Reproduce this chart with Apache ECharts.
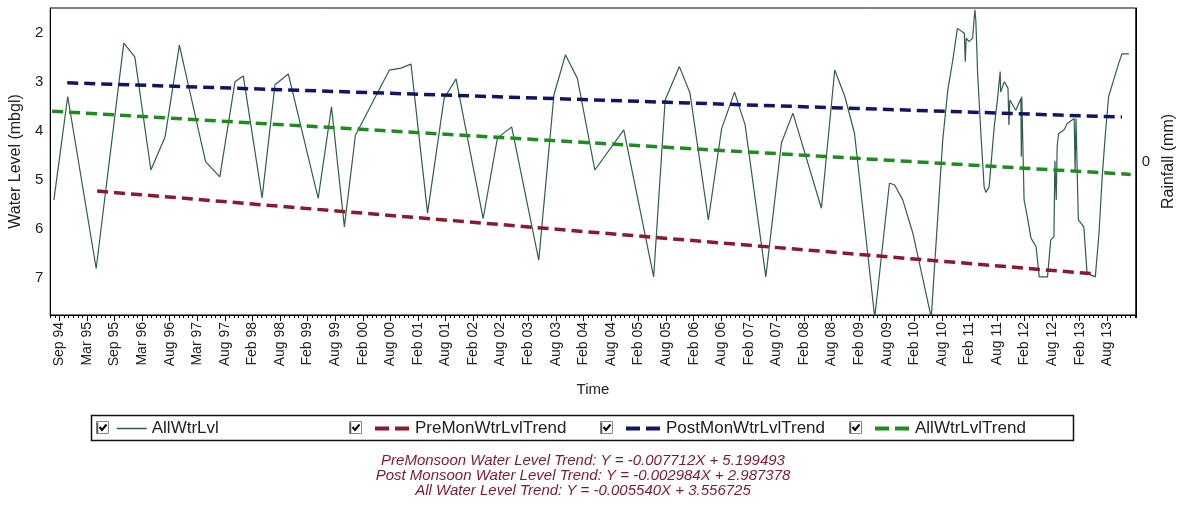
<!DOCTYPE html>
<html>
<head>
<meta charset="utf-8">
<script src="https://cdn.jsdelivr.net/npm/echarts@6/dist/echarts.min.js"></script>
<style>
  html, body { margin: 0; padding: 0; background: #fff; }
  #chart { width: 1185px; height: 507px; }
</style>
</head>
<body>
<div id="chart"></div>
<script>
// ---- data (x = months after Sep 1994) ----
const tickLabels = ['Sep 94','Mar 95','Sep 95','Mar 96','Aug 96','Mar 97','Aug 97','Feb 98','Aug 98','Feb 99',
  'Aug 99','Feb 00','Aug 00','Feb 01','Aug 01','Feb 02','Aug 02','Feb 03','Aug 03','Feb 04',
  'Aug 04','Feb 05','Aug 05','Feb 06','Aug 06','Feb 07','Aug 07','Feb 08','Aug 08','Feb 09',
  'Aug 09','Feb 10','Aug 10','Feb 11','Aug 11','Feb 12','Aug 12','Feb 13','Aug 13'];
const tickMonths = [0,6,12,18,24,30,36,42,48,54,60,66,72,78,84,90,96,102,108,114,120,126,132,138,144,150,
  156,162,168,174,180,186,192,198,204,210,216,222,228];
const levelTicks = [2, 3, 4, 5, 6, 7];
const rainTicks = [0];

const wlMonths = [-1.2,1.8,8.0,14.0,16.4,19.9,23.0,26.1,31.8,34.9,38.2,40.0,44.1,46.9,49.8,56.3,59.2,62.0,64.4,
  71.8,74.3,76.5,80.1,83.7,86.3,92.2,95.3,98.4,104.3,107.6,110.1,112.7,116.5,122.8,129.3,131.8,134.9,137.2,
  141.2,144.1,146.9,149.2,153.7,157.1,159.6,165.8,168.7,170.9,173.0,177.4,180.6,181.7,183.5,185.7,189.7,
  192.2,193.3,194.4,195.4,196.9,197.1,197.3,197.9,198.7,199.2,199.4,199.8,200.5,201.2,201.6,202.3,203.4,
  204.1,204.7,204.8,205.6,206.4,206.6,206.8,208.1,209.2,209.3,209.4,209.9,210.6,211.4,212.5,213.2,215.0,
  215.7,216.4,216.6,216.9,217.1,217.4,218.6,219.3,220.8,221.0,221.2,221.5,221.7,222.9,223.6,225.4,226.2,
  226.9,227.6,228.3,229.4,230.5,231.2,232.7];
const wlLevels = [5.40,3.29,6.80,2.20,2.48,4.79,4.11,2.24,4.62,4.93,2.99,2.87,5.36,3.05,2.83,5.37,3.50,5.95,4.08,
  2.75,2.71,2.63,5.67,3.33,2.93,5.78,4.14,3.91,6.63,3.26,2.44,2.92,4.79,3.97,6.97,3.36,2.68,3.22,
  5.81,3.94,3.20,3.87,6.97,4.24,3.63,5.57,2.75,3.29,4.04,7.80,5.06,5.09,5.40,6.08,7.80,
  4.18,3.16,2.54,1.90,2.00,2.58,2.10,2.17,2.10,1.52,1.73,2.84,4.04,5.13,5.25,5.13,3.91,
  3.36,2.78,3.20,2.99,3.12,3.87,3.36,3.57,3.33,4.52,3.29,5.40,5.74,6.18,6.35,6.97,6.97,
  6.22,6.15,4.60,5.40,4.30,4.05,3.97,3.84,3.74,4.79,3.74,3.74,5.81,5.95,6.90,6.97,6.08,
  4.93,4.04,3.29,2.95,2.61,2.42,2.42];

const preTrendMonths = [8.2, 225.1];
const preTrendLevels = [5.22, 6.91];
const postTrendMonths = [1.7, 231.2];
const postTrendLevels = [3.01, 3.71];
const allTrendMonths = [-1.6, 233.1];
const allTrendLevels = [3.59, 4.88];

const seriesNames = ['AllWtrLvl', 'PreMonWtrLvlTrend', 'PostMonWtrLvlTrend', 'AllWtrLvlTrend'];
const equations = [
  'PreMonsoon Water Level Trend: Y = -0.007712X + 5.199493',
  'Post Monsoon Water Level Trend: Y = -0.002984X + 2.987378',
  'All Water Level Trend: Y = -0.005540X + 3.556725'
];

// ---- chart ----
const zip = (xs, ys) => xs.map((x, i) => [x, ys[i]]);
const FONT = '"Liberation Sans", Arial, sans-serif';
const colors = ['#2f5f45', '#8b1a2e', '#141466', '#1e8c1e'];

const chart = echarts.init(document.getElementById('chart'), null, { renderer: 'canvas' });

const legendLefts = [116, 373, 624, 873];
const checkLefts = [96, 349, 600, 849];

const legends = seriesNames.map((n, i) => ({
  data: [n],
  left: legendLefts[i],
  top: 420,
  padding: 0,
  selectedMode: false,
  itemWidth: i === 0 ? 30 : 35,
  itemHeight: 14,
  itemGap: 10,
  textStyle: { fontFamily: FONT, fontSize: 17, color: '#222' },
  itemStyle: { opacity: 0 },
  lineStyle: i === 0 ? { width: 1.5 } : { width: 4, type: [14, 6] }
}));

const graphics = [
  { type: 'rect', shape: { x: 91.5, y: 415.5, width: 982, height: 25 },
    style: { fill: 'none', stroke: '#111', lineWidth: 1.5 } }
];
checkLefts.forEach(x => {
  graphics.push({ type: 'rect', shape: { x: x + 0.5, y: 421.5, width: 12, height: 12 },
    style: { fill: '#fff', stroke: '#888', lineWidth: 1 } });
  graphics.push({ type: 'polyline', shape: { points: [[x + 1.5, 422.5], [x + 1.5, 433.5]] },
    style: { stroke: '#555', lineWidth: 1.5 } });
  graphics.push({ type: 'polyline', shape: { points: [[x + 3.5, 427], [x + 6, 430], [x + 10.5, 424.5]] },
    style: { stroke: '#000', lineWidth: 2, fill: 'none' } });
});
equations.forEach((t, i) => {
  graphics.push({ type: 'text', x: 583, y: 461 + i * 15,
    style: { text: t, font: 'italic 15px ' + FONT, fill: '#7a1c2c', textAlign: 'center', textVerticalAlign: 'middle' } });
});

const option = {
  animation: false,
  backgroundColor: '#fff',
  grid: { left: 48, right: 48, top: 8, bottom: 192, show: true, borderColor: '#000', borderWidth: 1, backgroundColor: '#fff' },
  legend: legends,
  xAxis: [
    { type: 'value', min: -2, max: 234.2, interval: 1, position: 'bottom',
      axisLine: { show: true, onZero: false, lineStyle: { color: '#000' } },
      axisTick: { show: true, length: 3, lineStyle: { color: '#000' } },
      axisLabel: { show: false }, splitLine: { show: false } },
    { type: 'value', min: -2, max: 234.2, position: 'bottom',
      name: 'Time', nameLocation: 'middle', nameGap: 67,
      nameTextStyle: { fontFamily: FONT, fontSize: 15, color: '#222' },
      axisLine: { show: false, onZero: false },
      axisTick: { show: true, length: 6, customValues: tickMonths, lineStyle: { color: '#000' } },
      axisLabel: { show: true, customValues: tickMonths, rotate: 90, margin: 7,
        fontFamily: FONT, fontSize: 14, color: '#222',
        formatter: v => tickLabels[Math.round(v / 6)] },
      splitLine: { show: false } }
  ],
  yAxis: [
    { type: 'value', inverse: true, min: 1.484, max: 7.749, position: 'left',
      name: 'Water Level (mbgl)', nameLocation: 'middle', nameGap: 22, nameRotate: 90,
      nameTextStyle: { fontFamily: FONT, fontSize: 16, color: '#222' },
      axisLine: { show: true, onZero: false, lineStyle: { color: '#000' } },
      axisTick: { show: false },
      axisLabel: { customValues: levelTicks, fontFamily: FONT, fontSize: 15, color: '#222', margin: 7 },
      splitLine: { show: false } },
    { type: 'value', min: -1, max: 1, position: 'right',
      name: 'Rainfall (mm)', nameLocation: 'middle', nameGap: 23, nameRotate: 90,
      nameTextStyle: { fontFamily: FONT, fontSize: 16, color: '#222' },
      axisLine: { show: true, onZero: false, lineStyle: { color: '#000' } },
      axisTick: { show: false },
      axisLabel: { customValues: rainTicks, fontFamily: FONT, fontSize: 15, color: '#222', margin: 6 },
      splitLine: { show: false } }
  ],
  series: [
    { name: seriesNames[0], type: 'line', xAxisIndex: 0, yAxisIndex: 0, data: zip(wlMonths, wlLevels),
      symbol: 'none', color: colors[0], lineStyle: { width: 1.2, color: colors[0] }, z: 2 },
    { name: seriesNames[1], type: 'line', xAxisIndex: 0, yAxisIndex: 0, data: zip(preTrendMonths, preTrendLevels),
      symbol: 'none', color: colors[1], lineStyle: { width: 3.5, type: [11, 6], color: colors[1] }, z: 3 },
    { name: seriesNames[2], type: 'line', xAxisIndex: 0, yAxisIndex: 0, data: zip(postTrendMonths, postTrendLevels),
      symbol: 'none', color: colors[2], lineStyle: { width: 3.5, type: [11, 6], color: colors[2] }, z: 3 },
    { name: seriesNames[3], type: 'line', xAxisIndex: 0, yAxisIndex: 0, data: zip(allTrendMonths, allTrendLevels),
      symbol: 'none', color: colors[3], lineStyle: { width: 3.5, type: [11, 6], color: colors[3] }, z: 3 }
  ],
  graphic: graphics
};
chart.setOption(option);
</script>
</body>
</html>
